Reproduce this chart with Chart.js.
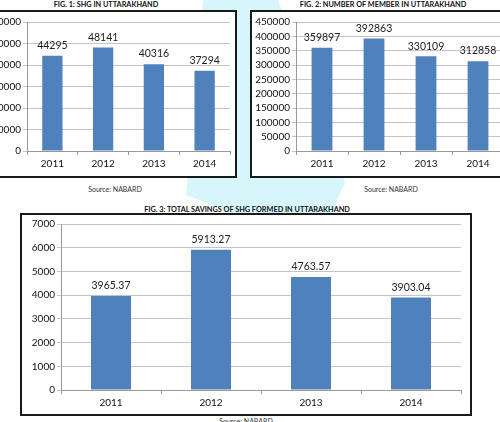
<!DOCTYPE html>
<html>
<head>
<meta charset="utf-8">
<script src="https://cdn.jsdelivr.net/npm/chart.js@4/dist/chart.umd.min.js"></script>
<style>
    html, body { margin: 0; padding: 0; background: #fff; }
    body { width: 500px; height: 422px; position: relative; overflow: hidden; font-family: Lato, sans-serif; }
    .wash { position: absolute; left: 0; top: 0; width: 500px; height: 422px; background: #d6f6fb;
        clip-path: polygon(203px 0, 278px 0, 345px 182px, 332px 213px, 232px 213px, 186px 195px); }
    .box { position: absolute; border: 2px solid #1a1a1a; background: #fff; box-sizing: border-box; }
    .box canvas { display: block; }
    .title { position: absolute; font-size: 7.3px; font-weight: bold; color: #111; transform: translateX(-50%); white-space: nowrap; }
    .src { position: absolute; font-size: 7px; color: #333; transform: translateX(-50%); white-space: nowrap; }
</style>
</head>
<body>
<div class="wash"></div>

<div class="title" style="left:106px; top:0px;">FIG. 1: SHG IN UTTARAKHAND</div>
<div class="box" style="left:-14px; top:10px; width:251px; height:168px;"><canvas id="chart1"></canvas></div>
<div class="src" style="left:115px; top:185px;">Source: NABARD</div>

<div class="title" style="left:383px; top:0px;">FIG. 2: NUMBER OF MEMBER IN UTTARAKHAND</div>
<div class="box" style="left:250px; top:10px; width:262px; height:168px;"><canvas id="chart2"></canvas></div>
<div class="src" style="left:391px; top:185px;">Source: NABARD</div>

<div class="title" style="left:247px; top:205px;">FIG. 3: TOTAL SAVINGS OF SHG FORMED IN UTTARAKHAND</div>
<div class="box" style="left:20px; top:213px; width:452px; height:203px;"><canvas id="chart3"></canvas></div>
<div class="src" style="left:246px; top:417px;">Source: NABARD</div>

<script>
    const years = ['2011', '2012', '2013', '2014'];

    // Fig 1: number of SHGs
    const shgCount = [44295, 48141, 40316, 37294];
    const shgAxis = { max: 60000, step: 10000 };

    // Fig 2: number of members
    const memberCount = [359897, 392863, 330109, 312858];
    const memberAxis = { max: 450000, step: 50000 };

    // Fig 3: total savings
    const totalSavings = [3965.37, 5913.27, 4763.57, 3903.04];
    const savingsAxis = { max: 7000, step: 1000 };

    Chart.defaults.font.family = 'Lato, sans-serif';
    Chart.defaults.font.size = 10;
    Chart.defaults.color = '#111';
    Chart.defaults.animation = false;

    // value labels above each bar
    const valueLabels = {
        id: 'valueLabels',
        afterDatasetsDraw(chart, args, opts) {
            const ctx = chart.ctx;
            const meta = chart.getDatasetMeta(0);
            ctx.save();
            ctx.font = '10.5px Lato, sans-serif';
            ctx.fillStyle = '#222';
            ctx.textAlign = 'center';
            ctx.textBaseline = 'bottom';
            meta.data.forEach((bar, i) => {
                const v = chart.data.datasets[0].data[i];
                const txt = opts.decimals ? v.toFixed(opts.decimals) : String(v);
                ctx.fillText(txt, bar.x, bar.y - (opts.gap || 5));
            });
            ctx.restore();
        }
    };

    function drawBars(id, values, axis, yWidth, xHeight, pad, decimals) {
        new Chart(document.getElementById(id), {
            type: 'bar',
            data: {
                labels: years,
                datasets: [{
                    data: values,
                    backgroundColor: '#4f81bd',
                    borderWidth: 0,
                    barPercentage: 0.4,
                    categoryPercentage: 1
                }]
            },
            options: {
                responsive: true,
                maintainAspectRatio: false,
                layout: { padding: pad },
                plugins: {
                    legend: { display: false },
                    tooltip: { enabled: false },
                    valueLabels: { decimals: decimals, gap: 5 }
                },
                scales: {
                    x: {
                        grid: { drawOnChartArea: false, drawTicks: true, tickLength: 4, color: '#999', offset: true },
                        border: { display: true, color: '#999' },
                        ticks: { padding: 3, color: '#111' },
                        afterFit: s => { s.height = xHeight; }
                    },
                    y: {
                        min: 0,
                        max: axis.max,
                        grid: { color: '#c4c4c4', tickLength: 4, drawTicks: true },
                        border: { display: true, color: '#999' },
                        ticks: { stepSize: axis.step, autoSkip: false, padding: 2, color: '#111', callback: v => String(v) },
                        afterFit: s => { s.width = yWidth; }
                    }
                }
            },
            plugins: [valueLabels]
        });
    }

    drawBars('chart1', shgCount, shgAxis, 39, 25, { top: 10, right: 5, left: 0, bottom: 0 }, 0);
    drawBars('chart2', memberCount, memberAxis, 44, 25, { top: 10, right: 6, left: 0, bottom: 0 }, 0);
    drawBars('chart3', totalSavings, savingsAxis, 39, 24, { top: 9, right: 9, left: 0, bottom: 0 }, 2);
</script>
</body>
</html>
